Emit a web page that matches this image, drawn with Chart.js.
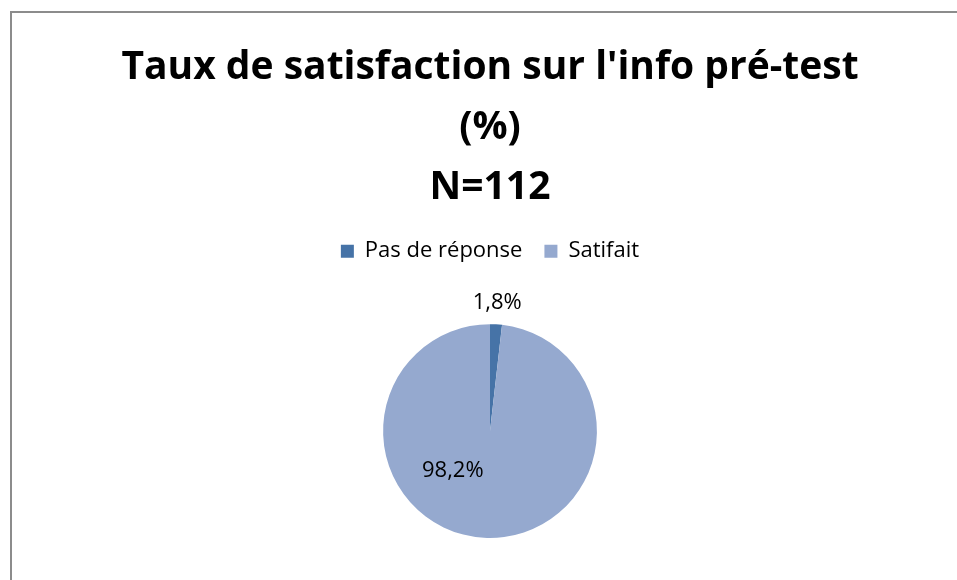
<!DOCTYPE html>
<html>
<head>
<meta charset="utf-8">
<script src="https://cdn.jsdelivr.net/npm/chart.js@4/dist/chart.umd.min.js"></script>
<style>
  html, body { margin: 0; padding: 0; background: #fff; }
  #wrap { position: relative; width: 957px; height: 580px; }
  #cadre { position: absolute; left: 10px; top: 11px; right: -5px; bottom: -5px; border-left: 2px solid #8c8c8c; border-top: 2px solid #8c8c8c; }
  canvas { position: absolute; left: 0; top: 0; }
</style>
</head>
<body>
<div id="wrap">
  <div id="cadre"></div>
  <canvas id="myChart" width="957" height="580"></canvas>
</div>
<script>
// données
const categories = ['Pas de réponse', 'Satifait'];
const valeurs = [1.8, 98.2];
const etiquettes = ['1,8%', '98,2%'];
const titre = ["Taux de satisfaction sur l'info pré-test", '(%)', 'N=112'];

const couleurs = ['#4673a7', '#95a9cf'];

// étiquettes de données (pas de plugin datalabels dispo)
const pluginEtiquettes = {
  id: 'etiquettes',
  beforeInit(chart) {
    // espace sous la légende
    const fitOrig = chart.legend.fit;
    chart.legend.fit = function () {
      fitOrig.call(this);
      this.height += 52;
    };
  },
  afterDatasetsDraw(chart, args, opts) {
    const ctx = chart.ctx;
    const meta = chart.getDatasetMeta(0);
    ctx.save();
    ctx.font = opts.font;
    ctx.fillStyle = '#000';
    ctx.textAlign = 'center';
    ctx.textBaseline = 'middle';
    meta.data.forEach(function (arc, i) {
      const p = opts.placement[i];
      const r = arc.outerRadius;
      let angle, d;
      if (p.dehors) {
        angle = (arc.startAngle + arc.endAngle) / 2;
        d = r + p.ecart;
      } else {
        angle = (p.angle - 90) * Math.PI / 180;
        d = r * p.fraction;
      }
      ctx.fillText(etiquettes[i], arc.x + Math.cos(angle) * d, arc.y + Math.sin(angle) * d);
    });
    ctx.restore();
  }
};

new Chart(document.getElementById('myChart'), {
  type: 'pie',
  data: {
    labels: categories,
    datasets: [{
      data: valeurs,
      backgroundColor: couleurs,
      borderWidth: 0
    }]
  },
  options: {
    responsive: false,
    animation: false,
    layout: { padding: { top: 38, bottom: 42, left: 23, right: 0 } },
    plugins: {
      title: {
        display: true,
        text: titre,
        color: '#000',
        font: { family: 'Open Sans', size: 39, weight: 'bold', lineHeight: 1.54 },
        padding: { top: 0, bottom: 0 }
      },
      legend: {
        position: 'top',
        labels: {
          color: '#000',
          font: { family: 'Open Sans', size: 22 },
          boxWidth: 13,
          boxHeight: 13,
          padding: 22
        }
      },
      tooltip: { enabled: false },
      etiquettes: {
        font: '22px "Open Sans"',
        placement: [
          { dehors: true, ecart: 22 },
          { angle: 223, fraction: 0.51 }
        ]
      }
    }
  },
  plugins: [pluginEtiquettes]
});
</script>
</body>
</html>
